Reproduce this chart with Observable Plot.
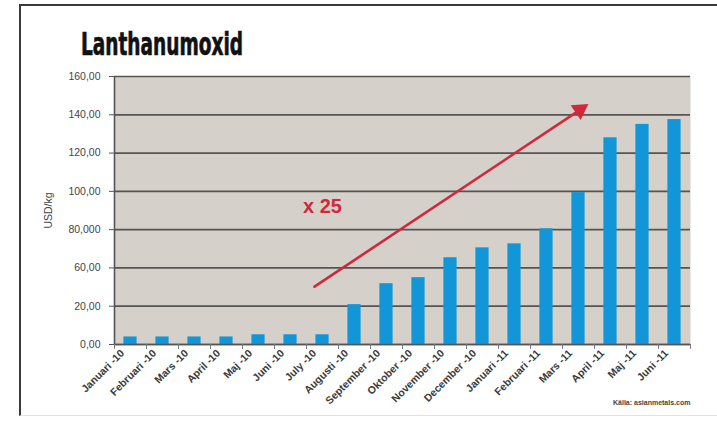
<!DOCTYPE html>
<html>
<head>
<meta charset="utf-8">
<script src="https://cdn.jsdelivr.net/npm/d3@7"></script>
<script src="https://cdn.jsdelivr.net/npm/@observablehq/plot@0.6"></script>
<style>
  html, body { margin: 0; padding: 0; background: #fff; }
  body { width: 717px; height: 423px; overflow: hidden; position: relative; font-family: "Liberation Sans", Arial, sans-serif; }
  #frame { position: absolute; left: 19px; top: 4px; width: 720px; height: 412px; border-top: 2px solid #3a3a3a; border-left: 2px solid #3a3a3a; border-bottom: 1px solid #e2e2e2; box-sizing: border-box; }
  #title { position: absolute; left: 81px; top: 28px; font: bold 32px/32px "Liberation Sans Narrow", "DejaVu Sans Condensed", "Liberation Sans", sans-serif; color: #111; -webkit-text-stroke: 0.7px #111; transform-origin: left top; white-space: nowrap; }
  #chart { position: absolute; left: 0; top: 0; }
  #source { position: absolute; left: 613px; top: 399px; font: bold 7px/8px "Liberation Sans", Arial, sans-serif; color: #444; white-space: nowrap; }
</style>
</head>
<body>
<div id="frame"></div>
<div id="chart"></div>
<div id="title">Lanthanumoxid</div>
<div id="source">Källa: asianmetals.com</div>
<script>
// Categories (x axis)
const months = ["Januari -10", "Februari -10", "Mars -10", "April -10", "Maj -10", "Juni -10", "July -10",
  "Augusti -10", "September -10", "Oktober -10", "November -10", "December -10",
  "Januari -11", "Februari -11", "Mars -11", "April -11", "Maj -11", "Juni -11"];
// Bar values (0 to 160 over 7 gridline steps)
const prices = [4.5, 4.5, 4.5, 4.5, 5.8, 5.8, 5.8, 23.8, 36.3, 39.9, 51.8, 57.7, 60.1, 69.1, 90.7, 123.4, 131.4, 134.3];
// Y tick labels as printed on the chart (evenly spaced gridlines)
const yTickLabels = ["0,00", "20,00", "60,00", "80,000", "100,00", "120,00", "140,00", "160,00"];
const yMax = 160;
const yTicks = yTickLabels.map((_, i) => i * yMax / (yTickLabels.length - 1));
// Annotation
const arrowStart = {month: "July -10", value: 37.7};
const arrowEnd = {month: "Mars -11", value: 139.5};
const annotationLabel = {month: "July -10", value: 82.1, text: "x 25"};

const data = months.map((m, i) => ({month: m, value: prices[i]}));
const arrowData = [{x1: arrowStart.month, y1: arrowStart.value, x2: arrowEnd.month, y2: arrowEnd.value}];

const bg = "#d5d0c9";
const blue = "#1197d8";
const grid = "#555555";
const red = "#d0283c";

const chart = Plot.plot({
  width: 717,
  height: 423,
  marginLeft: 114,
  marginRight: 27,
  marginTop: 76,
  marginBottom: 79,
  style: {background: "transparent", fontFamily: "'Liberation Sans', Arial, sans-serif", overflow: "visible"},
  x: {domain: months, padding: 0, label: null},
  y: {domain: [0, yMax], label: null},
  marks: [
    Plot.frame({fill: bg, stroke: "none"}),
    Plot.gridY(yTicks, {stroke: grid, strokeOpacity: 1, strokeWidth: 1.7}),
    Plot.barY(data, {x: "month", y: "value", fill: blue, insetLeft: 9.4, insetRight: 9.4}),
    Plot.ruleY([0], {stroke: "#555", strokeWidth: 1.7}),
    Plot.ruleX([months[0]], {dx: -16, y1: 0, y2: yMax, stroke: "#555", strokeWidth: 1.6}),
    Plot.ruleX(months, {dx: -16, y1: 0, y2: -2.9, stroke: "#777", strokeWidth: 1}),
    Plot.ruleX([months[months.length - 1]], {dx: 16, y1: 0, y2: -2.9, stroke: "#777", strokeWidth: 1}),
    Plot.axisY({
      ticks: yTicks,
      tickFormat: d => yTickLabels[yTicks.indexOf(d)],
      tickSize: 5,
      tickPadding: 9,
      fontSize: 10.5,
      fill: "#444",
      stroke: "#555",
      label: "USD/kg",
      labelAnchor: "center",
      labelArrow: "none",
      labelOffset: 70
    }),
    Plot.axisX({
      tickSize: 0,
      tickRotate: -45,
      tickPadding: 4,
      dx: -8,
      dy: 3,
      fontSize: 10.5,
      fontWeight: "bold",
      fill: "#3a3a3a",
      label: null
    }),
    Plot.arrow(arrowData, {
      x1: "x1", y1: "y1", x2: "x2", y2: "y2",
      stroke: red, strokeWidth: 2.6, headLength: 0,
      insetStart: -9.6, insetEnd: -4
    }),
    Plot.dot([arrowEnd], {
      x: "month", y: "value", symbol: "triangle", r: 6.6, rotate: 56,
      fill: red, stroke: "none", dx: 1.4, dy: -1.1
    }),
    Plot.text([annotationLabel], {
      x: "month", y: "value", text: "text",
      fill: red, fontSize: 20, fontWeight: "bold"
    })
  ]
});
document.getElementById("chart").appendChild(chart);

// Fit the condensed title to its width in the reference
const title = document.getElementById("title");
const w = title.getBoundingClientRect().width;
title.style.transform = `scaleX(${162 / w})`;
</script>
</body>
</html>
